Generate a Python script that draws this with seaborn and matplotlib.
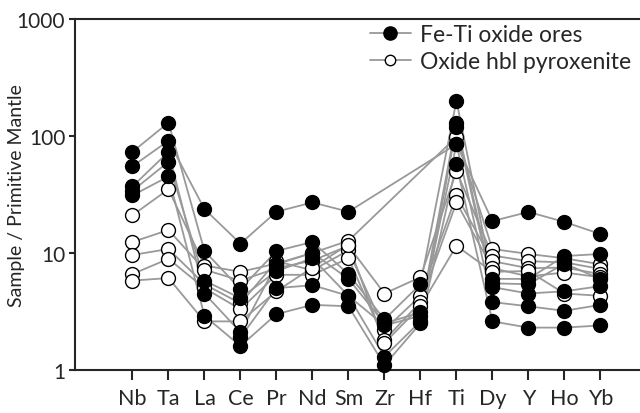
import numpy as np
import pandas as pd
import matplotlib
matplotlib.use("Agg")
import matplotlib.pyplot as plt
from matplotlib.lines import Line2D
import seaborn as sns

elements = ["Nb", "Ta", "La", "Ce", "Pr", "Nd", "Sm", "Zr", "Hf", "Ti", "Dy", "Y", "Ho", "Yb"]
nan = np.nan

# Fe-Ti oxide ores (filled circles)
ore_1 = [55, 91, 23.7, 12, 22.5, 27, 22.5, nan, nan, 85, 18.7, 22.4, 18.4, 14.5]
ore_2 = [73, 130, 10.4, 4.9, 10.4, 12.4, 6.6, 2.7, 5.4, 200, 6.0, 6.0, 9.4, 9.8]
ore_3 = [37, 73, 4.5, 2.1, 8.0, 10.0, 6.0, 2.5, 3.1, 130, 5.5, 5.4, 8.1, 6.0]
ore_4 = [34, 60, 5.8, 4.1, 7.0, 9.0, 4.3, 1.3, 2.6, 120, 5.1, 4.5, 4.7, 5.2]
ore_5 = [31, 45, 2.9, 1.6, 3.0, 3.6, 3.5, 1.1, 2.5, 57, 2.6, 2.3, 2.3, 2.4]
ore_6 = [nan, nan, nan, 1.9, 5.0, 5.3, 4.3, 2.4, 2.9, 85, 3.8, 3.5, 3.2, 3.6]

# Oxide hbl pyroxenite (open circles)
pyx_1 = [21, 35, 7.8, 6.9, 8.1, 10, 12.7, nan, nan, 98, 10.8, 9.8, 9.0, 8.0]
pyx_2 = [12.4, 15.7, 7.2, 5.8, 7.4, 8.6, 11.5, 4.5, 6.2, 50, 9.5, 8.5, 8.3, 7.3]
pyx_3 = [9.6, 10.8, 5.4, 3.7, 8.5, 7.1, 10.5, 2.2, 4.3, 31, 8.5, 7.4, 7.5, 6.6]
pyx_4 = [6.6, 8.9, 5.0, 3.3, 6.5, 6.5, 9.0, 1.8, 3.8, 27, 7.4, 6.3, 6.8, 6.2]
pyx_5 = [5.8, 6.1, 2.6, 2.6, 4.7, 7.5, 11.8, 1.7, 3.5, 11.5, 6.9, 7.0, 4.5, 4.3]

groups = {
    "Oxide hbl pyroxenite": [pyx_1, pyx_2, pyx_3, pyx_4, pyx_5],
    "Fe-Ti oxide ores": [ore_1, ore_2, ore_3, ore_4, ore_5, ore_6],
}

rows = []
for g, samples in groups.items():
    for i, s in enumerate(samples):
        for j, v in enumerate(s):
            rows.append({"group": g, "sample": f"{g}_{i}", "x": j, "element": elements[j], "value": v})
df = pd.DataFrame(rows).dropna()

sns.set_style("ticks")
plt.rcParams["font.family"] = ["Lato", "DejaVu Sans"]

fig = plt.figure(figsize=(6.4, 4.14), dpi=100)
ax = fig.add_axes([0.117, 0.104, 0.883, 0.848])

line_col = "#999999"
sns.lineplot(data=df, x="x", y="value", units="sample", estimator=None,
             color=line_col, linewidth=1.3, ax=ax, legend=False, zorder=1)

pal = {"Fe-Ti oxide ores": "black", "Oxide hbl pyroxenite": "white"}
for g in ["Oxide hbl pyroxenite", "Fe-Ti oxide ores"]:
    sub = df[df["group"] == g]
    sns.scatterplot(data=sub, x="x", y="value", color=pal[g], edgecolor="black",
                    linewidth=1.0, s=100, ax=ax, legend=False, zorder=3, clip_on=False)

ax.set_yscale("log")
ax.set_ylim(1, 1000)
ax.set_xlim(-1.6, 14.1)
ax.set_yticks([1, 10, 100, 1000])
ax.set_yticklabels(["1", "10", "100", "1000"])
ax.yaxis.set_minor_locator(matplotlib.ticker.NullLocator())
ax.set_xticks(range(len(elements)))
ax.set_xticklabels(elements)
ax.tick_params(axis="x", length=7, width=1.5, labelsize=15.5, pad=6, direction="out")
ax.tick_params(axis="y", length=4, width=1.5, labelsize=15, pad=3, direction="out")
ax.set_xlabel("")
ax.set_ylabel("Sample / Primitive Mantle", fontsize=14)
ax.yaxis.set_label_coords(-0.088, 0.5)

for side in ["left", "bottom", "top"]:
    ax.spines[side].set_linewidth(1.5)
    ax.spines[side].set_visible(True)
ax.spines["right"].set_visible(False)

handles = [
    Line2D([], [], color=line_col, lw=1.3, marker="o", markersize=9.5,
           markerfacecolor="black", markeredgecolor="black"),
    Line2D([], [], color=line_col, lw=1.3, marker="o", markersize=7.5,
           markerfacecolor="white", markeredgecolor="black"),
]
ax.legend(handles, ["Fe-Ti oxide ores", "Oxide hbl pyroxenite"], loc="upper left",
          bbox_to_anchor=(0.522, 0.985), frameon=False, fontsize=16.5,
          handlelength=1.8, handletextpad=0.4, labelspacing=0.25,
          borderpad=0.0, borderaxespad=0.0)

fig.savefig("out.png", dpi=100)
